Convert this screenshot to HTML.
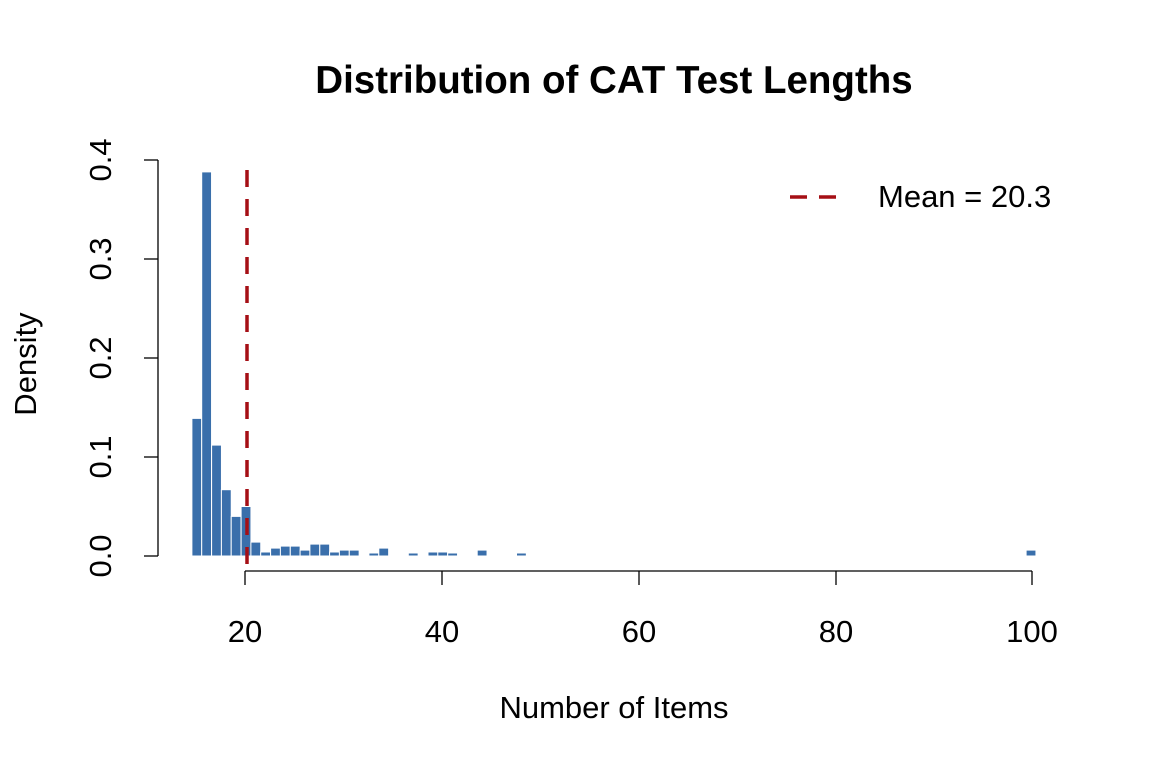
<!DOCTYPE html><html><head><style>body{margin:0;background:#fff}svg{display:block}text{font-family:"Liberation Sans",sans-serif;fill:#000}</style></head><body>
<svg width="1152" height="768" xmlns="http://www.w3.org/2000/svg">
<text x="614" y="93" font-size="38.5" font-weight="bold" text-anchor="middle">Distribution of CAT Test Lengths</text>
<g fill="#3a6fab" stroke="#fff" stroke-width="1">
<rect x="191.9" y="418.4" width="9.84" height="137.6"/>
<rect x="201.7" y="171.9" width="9.84" height="384.1"/>
<rect x="211.6" y="445.1" width="9.84" height="110.9"/>
<rect x="221.4" y="489.7" width="9.84" height="66.3"/>
<rect x="231.2" y="516.4" width="9.84" height="39.6"/>
<rect x="241.1" y="506.5" width="9.84" height="49.5"/>
<rect x="250.9" y="542.1" width="9.84" height="13.9"/>
<rect x="260.7" y="552.0" width="9.84" height="4.0"/>
<rect x="270.6" y="548.1" width="9.84" height="7.9"/>
<rect x="280.4" y="546.1" width="9.84" height="9.9"/>
<rect x="290.3" y="546.1" width="9.84" height="9.9"/>
<rect x="300.1" y="550.1" width="9.84" height="5.9"/>
<rect x="309.9" y="544.1" width="9.84" height="11.9"/>
<rect x="319.8" y="544.1" width="9.84" height="11.9"/>
<rect x="329.6" y="552.0" width="9.84" height="4.0"/>
<rect x="339.4" y="550.1" width="9.84" height="5.9"/>
<rect x="349.3" y="550.1" width="9.84" height="5.9"/>
<rect x="368.9" y="553.0" width="9.84" height="3.0"/>
<rect x="378.8" y="548.1" width="9.84" height="7.9"/>
<rect x="408.3" y="553.0" width="9.84" height="3.0"/>
<rect x="428.0" y="552.0" width="9.84" height="4.0"/>
<rect x="437.8" y="552.0" width="9.84" height="4.0"/>
<rect x="447.7" y="553.0" width="9.84" height="3.0"/>
<rect x="477.2" y="550.1" width="9.84" height="5.9"/>
<rect x="516.5" y="553.0" width="9.84" height="3.0"/>
<rect x="1026.1" y="550.1" width="9.84" height="5.9"/>
</g>
<g stroke="#000" stroke-width="1.3" fill="none">
<line x1="158" y1="160" x2="158" y2="556"/>
<line x1="144" y1="556" x2="158" y2="556"/><line x1="144" y1="457" x2="158" y2="457"/><line x1="144" y1="358" x2="158" y2="358"/><line x1="144" y1="259" x2="158" y2="259"/><line x1="144" y1="160" x2="158" y2="160"/>
<line x1="245" y1="571" x2="1032" y2="571"/>
<line x1="245" y1="571" x2="245" y2="585"/><line x1="442" y1="571" x2="442" y2="585"/><line x1="639" y1="571" x2="639" y2="585"/><line x1="836" y1="571" x2="836" y2="585"/><line x1="1032" y1="571" x2="1032" y2="585"/>
</g>
<g font-size="31" text-anchor="middle">
<text x="245" y="642">20</text><text x="442" y="642">40</text><text x="639" y="642">60</text><text x="836" y="642">80</text><text x="1032" y="642">100</text>
<text transform="translate(111,556) rotate(-90)">0.0</text><text transform="translate(111,457) rotate(-90)">0.1</text><text transform="translate(111,358) rotate(-90)">0.2</text><text transform="translate(111,259) rotate(-90)">0.3</text><text transform="translate(111,160) rotate(-90)">0.4</text>
<text x="614" y="718">Number of Items</text>
<text transform="translate(36,364) rotate(-90)">Density</text>
</g>
<line x1="247" y1="170" x2="247" y2="572" stroke="#a50f15" stroke-width="3.5" stroke-dasharray="17,12"/>
<line x1="790" y1="197" x2="842" y2="197" stroke="#a50f15" stroke-width="3.5" stroke-dasharray="17,12"/>
<text x="878" y="207" font-size="31">Mean = 20.3</text>
</svg></body></html>
